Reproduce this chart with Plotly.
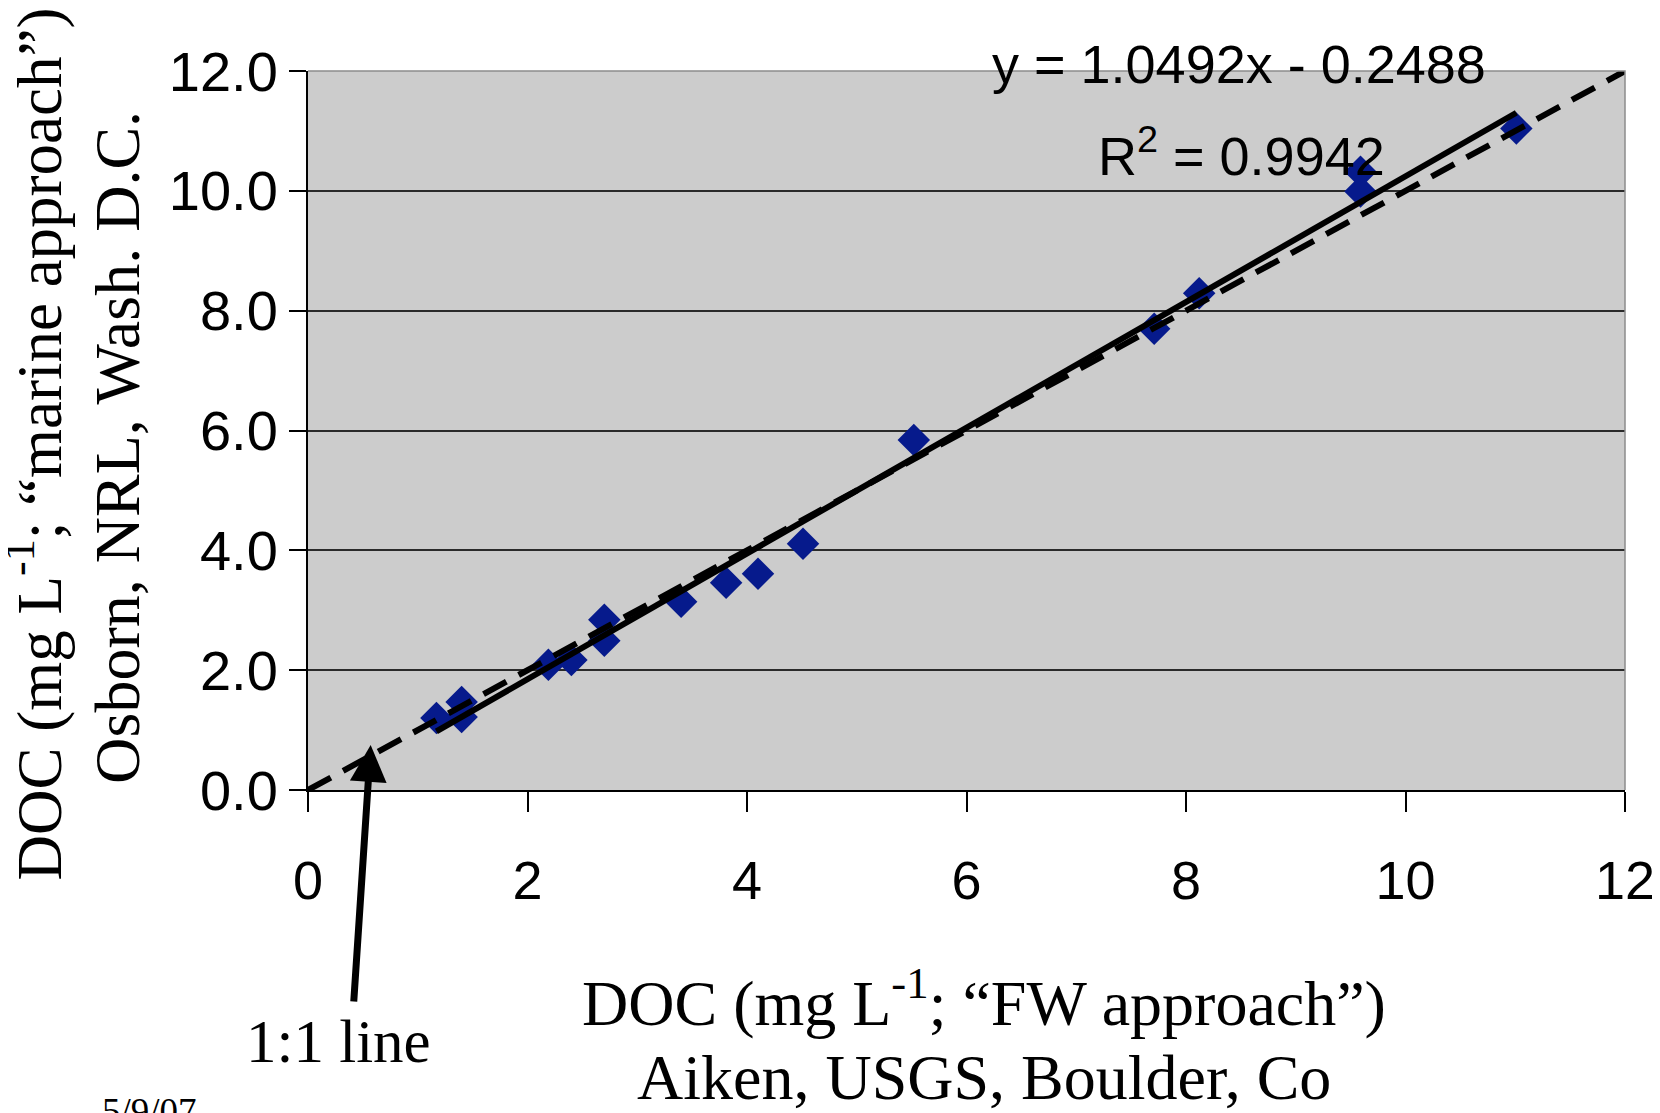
import plotly.graph_objects as go

# ---- data ----
x_fw = [1.17, 1.40, 1.40, 2.19, 2.40, 2.70, 2.70, 3.40, 3.81, 4.10, 4.51,
        5.52, 7.71, 8.12, 9.59, 9.59, 11.01]
y_marine = [1.20, 1.47, 1.22, 2.09, 2.17, 2.84, 2.49, 3.14, 3.46, 3.61, 4.11,
            5.84, 7.70, 8.29, 10.32, 9.99, 11.04]

trend_slope = 1.0492
trend_intercept = -0.2488
r_squared = 0.9942

one_to_one = [0, 12]

x_ticks = [0, 2, 4, 6, 8, 10, 12]
y_ticks = [0, 2, 4, 6, 8, 10, 12]

SANS = "Liberation Sans, Arial, sans-serif"
SERIF = "Liberation Serif, Times New Roman, serif"

trend_x = [min(x_fw), max(x_fw)]
trend_y = [trend_slope * v + trend_intercept for v in trend_x]

fig = go.Figure()

fig.add_trace(go.Scatter(
    x=x_fw, y=y_marine, mode="markers",
    marker=dict(symbol="diamond", size=25, color="#061a8c",
                line=dict(width=0)),
    showlegend=False, cliponaxis=False))

fig.add_trace(go.Scatter(
    x=one_to_one, y=one_to_one, mode="lines",
    line=dict(color="black", width=6, dash="26px,14px"),
    showlegend=False, cliponaxis=False))

fig.add_trace(go.Scatter(
    x=trend_x, y=trend_y, mode="lines",
    line=dict(color="black", width=6),
    showlegend=False))

annotations = [
    # equation + R^2
    dict(text=f"y = {trend_slope:.4f}x - {abs(trend_intercept):.4f}",
         xref="paper", yref="paper", x=0.7069, y=0.9652,
         xanchor="center", yanchor="bottom", showarrow=False,
         font=dict(family=SANS, size=54, color="black")),
    dict(text=f"R<sup>2</sup> = {r_squared:.4f}",
         xref="paper", yref="paper", x=0.7088, y=0.8373,
         xanchor="center", yanchor="bottom", showarrow=False,
         font=dict(family=SANS, size=54, color="black")),
    # x title (two lines)
    dict(text="DOC (mg L<sup>-1</sup>; \u201cFW approach\u201d)",
         xref="paper", yref="paper", x=0.5133, y=-0.3486,
         xanchor="center", yanchor="bottom", showarrow=False,
         font=dict(family=SERIF, size=64, color="black")),
    dict(text="Aiken, USGS, Boulder, Co",
         xref="paper", yref="paper", x=0.5133, y=-0.4515,
         xanchor="center", yanchor="bottom", showarrow=False,
         font=dict(family=SERIF, size=64, color="black")),
    # y title (two lines)
    dict(text="DOC (mg L<sup>-1</sup>; \u201cmarine approach\u201d)",
         xref="paper", yref="paper", x=-0.1762, y=0.4812,
         xanchor="right", yanchor="middle", textangle=-90, showarrow=False,
         font=dict(family=SERIF, size=63, color="black")),
    dict(text="Osborn, NRL, Wash. D.C.",
         xref="paper", yref="paper", x=-0.1160, y=0.4771,
         xanchor="right", yanchor="middle", textangle=-90, showarrow=False,
         font=dict(family=SERIF, size=64, color="black")),
    # 1:1 line label and arrow
    dict(text="1:1 line",
         xref="paper", yref="paper", x=0.0228, y=-0.3986,
         xanchor="center", yanchor="bottom", showarrow=False,
         font=dict(family=SERIF, size=61, color="black")),
    dict(text="", xref="x", yref="y", x=0.571, y=0.75,
         ax=-17, ay=258, showarrow=True, arrowhead=2, arrowsize=1.05,
         arrowwidth=7, arrowcolor="black"),
    # date stamp
    dict(text="5/9/07",
         xref="paper", yref="paper", x=-0.12, y=-0.4783,
         xanchor="center", yanchor="bottom", showarrow=False,
         font=dict(family=SERIF, size=37, color="black")),
]

# page body has an 8px margin, so the figure is sized/shifted to compensate
fig.update_layout(
    width=1652, height=1105,
    margin=dict(l=300, r=35, t=63, b=323, pad=0, autoexpand=False),
    paper_bgcolor="white",
    plot_bgcolor="#cccccc",
    showlegend=False,
    annotations=annotations,
    shapes=[dict(type="path", xref="paper", yref="paper",
                 path="M0,1 L1,1 L1,0",
                 line=dict(color="#8c8c8c", width=1.5), layer="above")],
    xaxis=dict(range=[0, 12], tickvals=x_ticks,
               ticktext=[str(v) for v in x_ticks],
               showgrid=False, zeroline=False, automargin=False,
               showline=True, linecolor="black", linewidth=2,
               ticks="outside", ticklen=20, tickwidth=2, tickcolor="black",
               ticklabelstandoff=22,
               tickfont=dict(family=SANS, size=54, color="black")),
    yaxis=dict(range=[0, 12], tickvals=y_ticks,
               ticktext=[f"{v:.1f}" for v in y_ticks],
               showgrid=True, gridcolor="#2a2a2a", gridwidth=2,
               zeroline=False, automargin=False,
               showline=True, linecolor="black", linewidth=2,
               ticks="outside", ticklen=17, tickwidth=2, tickcolor="black",
               ticklabelstandoff=0,
               tickfont=dict(family=SANS, size=56, color="black")),
)

fig.write_html("out.html")
